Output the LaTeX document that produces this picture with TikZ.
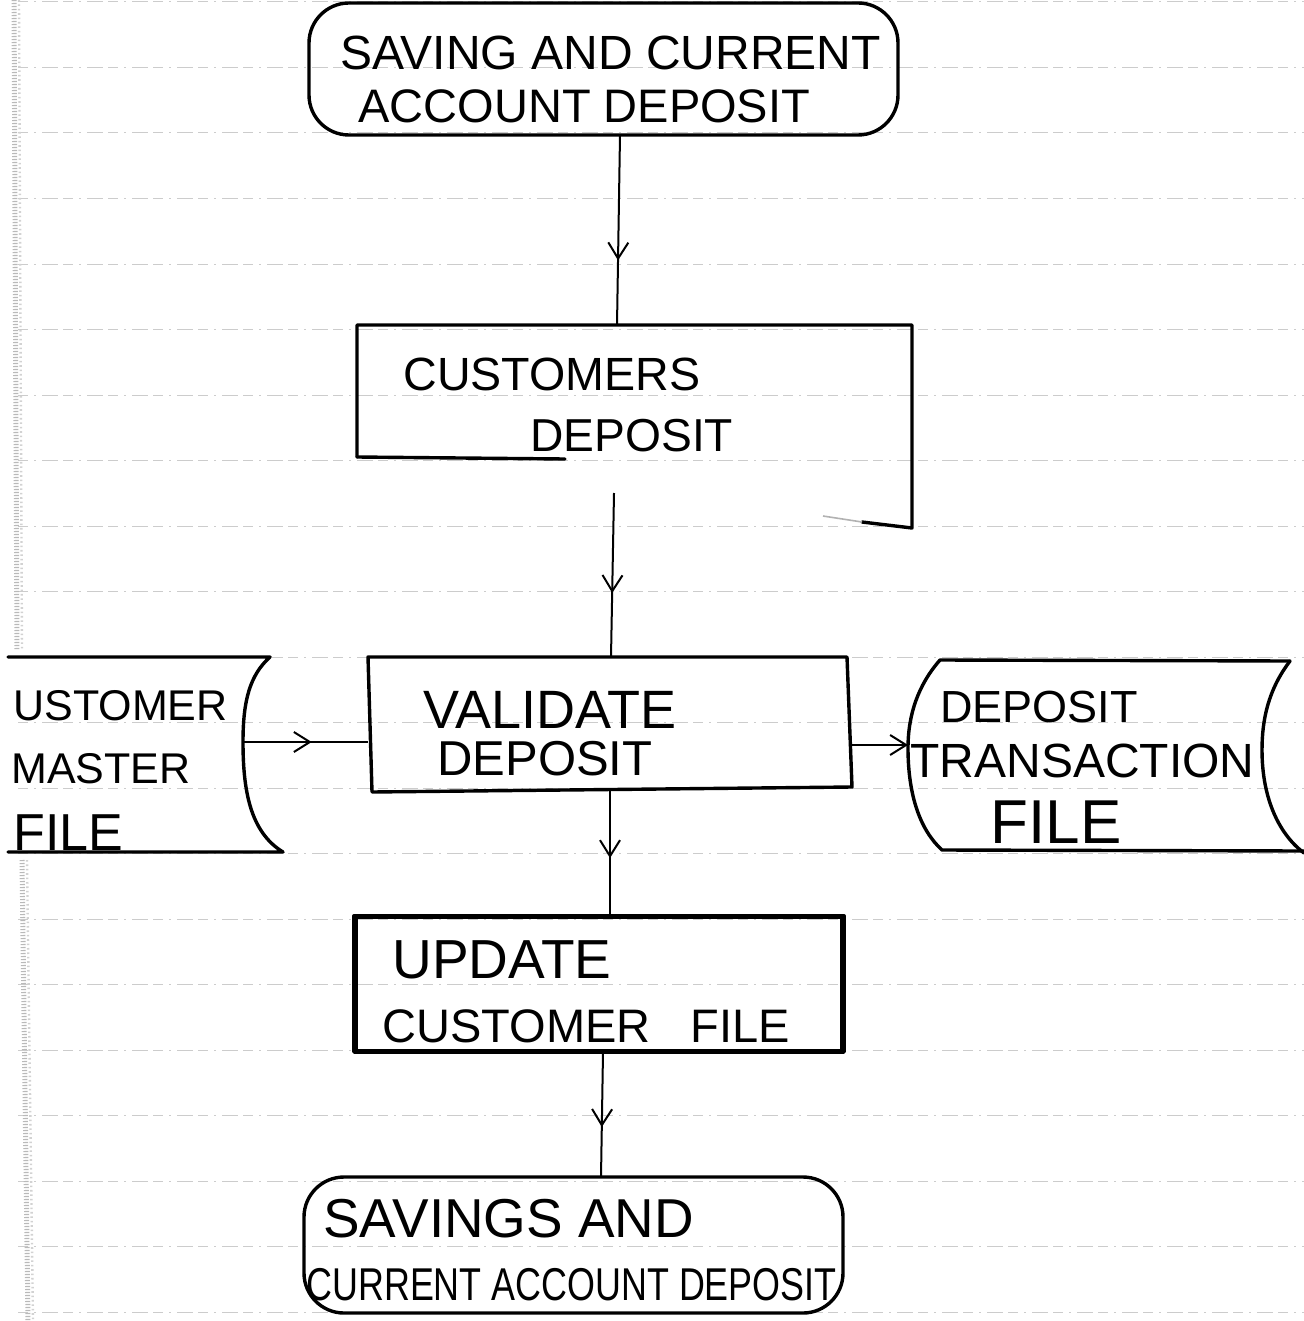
\documentclass[tikz,border=0pt]{standalone}
\usepackage{fontspec}
\setmainfont{Liberation Sans}
\usetikzlibrary{arrows.meta,decorations.markings,fit}
\newcommand\penfs[1]{\fontsize{#1}{#1}\selectfont}

\begin{document}
\begin{tikzpicture}[x=0.5pt,y=-0.5pt,
  ruled/.style={gray!40, line width=0.5pt, dash pattern=on 5pt off 3pt on 1pt off 3pt on 8pt off 2.5pt},
  pen/.style={line width=1.7pt, line cap=round, line join=round},
  boxarea/.style={inner sep=0pt, outer sep=0pt},
  term/.style={boxarea, draw, pen, rounded corners=20pt},
  hand/.style={anchor=base west, inner sep=0pt},
  flow/.style={line width=1pt},
  midarr/.style={flow, postaction={decorate},
    decoration={markings, mark=at position #1 with {\arrow{Straight Barb[length=8pt,width=10pt]}}}},
]
\fill[white] (0,0) rectangle (1304,1321);
\useasboundingbox (0,0) rectangle (1304,1321);

% ruled notebook paper
\foreach \k in {0,...,20}
  \draw[ruled] (18,{2+65.5*\k}) -- (1304,{2+65.5*\k});
% torn left edge of the sheet
\draw[gray!55, line width=2.5pt, dash pattern=on 0.6pt off 0.9pt] (14,0) -- (17,650);
\draw[gray!55, line width=2.5pt, dash pattern=on 0.6pt off 0.9pt] (22,860) -- (28,1321);
\draw[gray!35, line width=1.2pt, dash pattern=on 0.8pt off 1.4pt] (19,0) -- (22,650);
\draw[gray!35, line width=1.2pt, dash pattern=on 0.8pt off 1.4pt] (27,860) -- (33,1321);

% ---- shapes ----
\node[term, fit={(309,3) (898,135)}] (top) {};

\node[boxarea, fit={(357,325) (912,528)}] (cust) {};
\draw[pen] (357,457) -- (357,325) -- (912,325) -- (912,528) -- (862,522);
\draw[pen] (357,457) -- (565,459);
\draw[gray!60, line width=0.8pt] (862,522) -- (823,516);

\node[boxarea, fit={(368,657) (850,790)}] (val) {};
\draw[pen] (368,657) -- (847,657) -- (852,787) -- (372,792) -- cycle;

\node[boxarea, fit={(354,916) (844,1052)}] (upd) {};
\draw[pen] (354,916) rectangle (844,1052);
\draw[line width=0.7pt] (357,918) rectangle (841,1050);

\node[term, fit={(304,1177) (843,1313)}] (bot) {};

\node[boxarea, fit={(10,657) (243,852)}] (cmf) {};
\draw[pen] (8,657) -- (270,657) .. controls (250,675) and (243,700) .. (243,742)
  .. controls (243,790) and (250,832) .. (283,852) -- (8,852);

\node[boxarea, fit={(908,660) (1304,850)}] (dtf) {};
\draw[pen] (1290,661) -- (940,660) .. controls (918,685) and (908,715) .. (908,748)
  .. controls (908,795) and (920,830) .. (942,850) -- (1304,851);
\draw[pen] (1290,661) .. controls (1268,690) and (1262,720) .. (1262,750)
  .. controls (1262,800) and (1280,835) .. (1304,853);

% ---- labels ----
\node[hand, font=\penfs{24}]   (t1)  at (340,70)   {SAVING AND CURRENT};
\node[hand, font=\penfs{23.5}] (t2)  at (358,123)  {ACCOUNT DEPOSIT};
\node[hand, font=\penfs{23.3}] (t3)  at (403,390)  {CUSTOMERS};
\node[hand, font=\penfs{23.1}] (t4)  at (530,451)  {DEPOSIT};
\node[hand, font=\penfs{27}]   (t5)  at (423,728)  {VALIDATE};
\node[hand, font=\penfs{24.5}] (t6)  at (437,775)  {DEPOSIT};
\node[hand, font=\penfs{27.5}] (t7)  at (392,978)  {UPDATE};
\node[hand, font=\penfs{23.5}] (t8)  at (382,1042) {CUSTOMER\hspace{20pt}FILE};
\node[hand, font=\penfs{27.4}] (t9)  at (323,1237) {SAVINGS AND};
\node[hand, font=\penfs{23}]   (t10) at (306,1300) {\scalebox{0.78}[1]{CURRENT ACCOUNT DEPOSIT}};
\node[hand, font=\penfs{21.5}] (t11) at (13,720)   {USTOMER};
\node[hand, font=\penfs{21.5}] (t12) at (11,783)   {MASTER};
\node[hand, font=\penfs{26}]   (t13) at (13,850)   {FILE};
\node[hand, font=\penfs{22.5}] (t14) at (940,722)  {DEPOSIT};
\node[hand, font=\penfs{24}]   (t15) at (910,777)  {TRANSACTION};
\node[hand, font=\penfs{31}]   (t16) at (990,843)  {FILE};

% ---- connectors ----
\draw[midarr=0.66] ([xshift=8.25pt]top.south) -- ([xshift=-8.75pt]cust.north);
\draw[midarr=0.61] ([xshift=-10.25pt,yshift=17.5pt]cust.south) -- ([xshift=1pt]val.north);
\draw[midarr=0.54] ([xshift=0.5pt]val.south) -- ([xshift=5.5pt]upd.north);
\draw[midarr=0.6]  ([xshift=2pt]upd.south) -- ([xshift=13.75pt]bot.north);
\draw[midarr=0.55] ([yshift=6.25pt]cmf.east) -- ([yshift=-9.25pt]val.west);
\draw[flow, -{Straight Barb[length=8pt,width=10pt]}] ([yshift=-10.75pt]val.east) -- ([yshift=5pt]dtf.west);
\end{tikzpicture}
\end{document}
